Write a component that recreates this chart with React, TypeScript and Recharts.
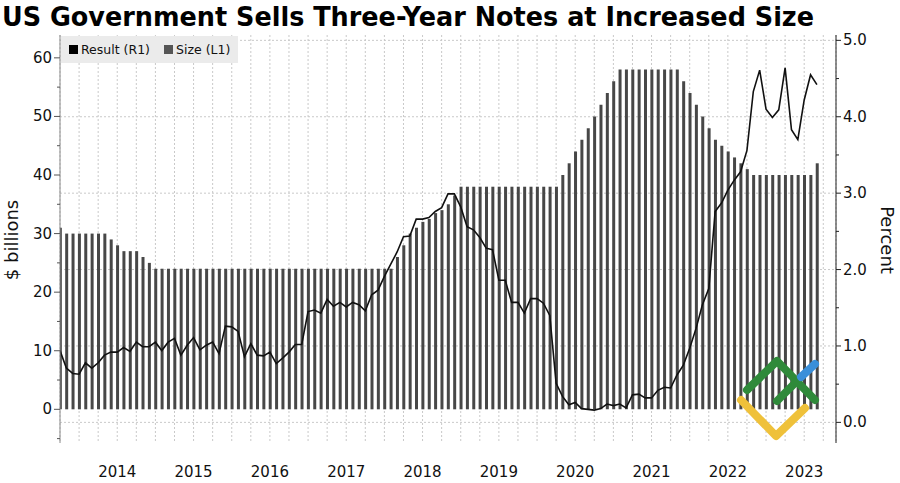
import { Bar, CartesianGrid, ComposedChart, Line, XAxis, YAxis } from 'recharts'

// one entry per monthly auction, Sep 2013 .. Aug 2023
const sizes = [
  31, 30, 30, 30, 30, 30, 30, 30, 29, 28,
  27, 27, 27, 26, 25, 24, 24, 24, 24, 24,
  24, 24, 24, 24, 24, 24, 24, 24, 24, 24,
  24, 24, 24, 24, 24, 24, 24, 24, 24, 24,
  24, 24, 24, 24, 24, 24, 24, 24, 24, 24,
  24, 24, 24, 26, 28, 30, 31, 32, 32.5, 33.5,
  34, 35, 36.5, 38, 38, 38, 38, 38, 38, 38,
  38, 38, 38, 38, 38, 38, 38, 38, 38, 40,
  42, 44, 46, 48, 50, 52, 54, 56, 58, 58,
  58, 58, 58, 58, 58, 58, 58, 58, 56, 54,
  52, 50, 48, 46, 45, 44, 43, 42, 41, 40,
  40, 40, 40, 40, 40, 40, 40, 40, 40, 42,
]

const results = [
  0.94, 0.71, 0.64, 0.63, 0.78, 0.71, 0.78, 0.88, 0.92, 0.92,
  0.98, 0.93, 1.05, 0.99, 0.99, 1.05, 0.94, 1.05, 1.1, 0.88,
  1.01, 1.11, 0.95, 1.01, 1.05, 0.9, 1.26, 1.25, 1.19, 0.86,
  1.03, 0.88, 0.87, 0.92, 0.77, 0.84, 0.92, 1.02, 1.02, 1.45,
  1.47, 1.43, 1.61, 1.52, 1.57, 1.51, 1.57, 1.54, 1.46, 1.67,
  1.73, 1.91, 2.07, 2.23, 2.43, 2.44, 2.66, 2.66, 2.68, 2.76,
  2.81, 2.99, 2.99, 2.82, 2.56, 2.52, 2.42, 2.28, 2.26, 1.86,
  1.86, 1.57, 1.57, 1.43, 1.62, 1.62, 1.56, 1.4, 0.51, 0.34,
  0.23, 0.26, 0.18, 0.17, 0.16, 0.18, 0.24, 0.22, 0.24, 0.19,
  0.36, 0.37, 0.32, 0.32, 0.42, 0.46, 0.45, 0.62, 0.75, 0.97,
  1.23, 1.54, 1.75, 2.76, 2.87, 3.04, 3.17, 3.28, 3.56, 4.33,
  4.61, 4.1, 3.99, 4.09, 4.64, 3.83, 3.7, 4.22, 4.55, 4.42,
]

const years = ['2014', '2015', '2016', '2017', '2018', '2019', '2020', '2021', '2022', '2023']
const leftTicks = [-5, 0, 5, 10, 15, 20, 25, 30, 35, 40, 45, 50, 55, 60]
const rightTicks = [0, 0.5, 1, 1.5, 2, 2.5, 3, 3.5, 4, 4.5, 5]
const gridValues = [0, 1, 2, 3, 4, 5]
// quarter marks on the month index axis; year labels sit mid-year
const quarterTicks = Array.from({ length: 41 }, (_, i) => i * 3)

const data = sizes.map((size, i) => ({ k: i, size, result: results[i] }))

const FONT = '"DejaVu Sans", Verdana, sans-serif'

function LeftTick({ x, y, payload }: any) {
  const v = payload.value
  const major = v % 10 === 0
  return (
    <g>
      <line x1={x - (major ? 6 : 3)} x2={x} y1={y} y2={y} stroke="#555" />
      {major && (
        <text x={x - 8} y={y} dy={5} textAnchor="end" fontSize={15} fill="#111" fontFamily={FONT}>
          {v}
        </text>
      )}
    </g>
  )
}

function RightTick({ x, y, payload }: any) {
  const v = payload.value
  const major = Math.abs(v - Math.round(v)) < 1e-6
  return (
    <g>
      <line x1={x} x2={x + (major ? 5 : 3)} y1={y} y2={y} stroke="#222" />
      {major && (
        <text x={x + 7} y={y} dy={5} textAnchor="start" fontSize={15} fill="#111" fontFamily={FONT}>
          {v.toFixed(1)}
        </text>
      )}
    </g>
  )
}

function YearTick({ x, y, payload }: any) {
  const v = payload.value
  if ((v - 9) % 12 !== 0) return <g />
  return (
    <text x={x} y={y + 34} textAnchor="middle" fontSize={15} fill="#111" fontFamily={FONT}>
      {years[(v - 9) / 12]}
    </text>
  )
}

export default function App() {
  return (
    <div style={{ position: 'relative', width: 900, height: 483, background: '#fff', fontFamily: FONT }}>
      <style>{'body { margin: 0; }'}</style>
      <ComposedChart width={900} height={483} data={data} margin={{ top: 35, right: 0, bottom: 0, left: 0 }}>
        <CartesianGrid
          yAxisId="right"
          horizontalValues={gridValues}
          stroke="#c9c9c9"
          strokeDasharray="2 2"
        />
        <XAxis
          type="number"
          dataKey="k"
          domain={[0, 122]}
          ticks={quarterTicks}
          interval={0}
          allowDataOverflow
          axisLine={false}
          tickLine={false}
          tickSize={0}
          tickMargin={0}
          height={40}
          tick={<YearTick />}
        />
        <YAxis
          yAxisId="left"
          orientation="left"
          domain={[-5.75, 63.9]}
          ticks={leftTicks}
          interval={0}
          allowDataOverflow
          width={60}
          axisLine={{ stroke: '#8a8a8a' }}
          tickLine={false}
          tickSize={0}
          tickMargin={0}
          tick={<LeftTick />}
        />
        <YAxis
          yAxisId="right"
          orientation="right"
          domain={[-0.27, 5.07]}
          ticks={rightTicks}
          interval={0}
          allowDataOverflow
          width={64}
          axisLine={{ stroke: '#222' }}
          tickLine={false}
          tickSize={0}
          tickMargin={0}
          tick={<RightTick />}
        />
        <Bar yAxisId="left" dataKey="size" fill="#474747" barSize={3} isAnimationActive={false} />
        <Line
          yAxisId="right"
          dataKey="result"
          type="linear"
          stroke="#111"
          strokeWidth={1.6}
          dot={false}
          isAnimationActive={false}
        />
      </ComposedChart>

      {/* legend box */}
      <div
        style={{
          position: 'absolute',
          left: 61,
          top: 36,
          height: 27,
          padding: '0 8px',
          background: '#ebebeb',
          display: 'flex',
          alignItems: 'center',
          gap: 14,
          fontSize: 12.5,
          color: '#111',
        }}
      >
        <span style={{ display: 'flex', alignItems: 'center', gap: 3 }}>
          <span style={{ width: 9, height: 9, background: '#000', display: 'inline-block' }} />
          Result (R1)
        </span>
        <span style={{ display: 'flex', alignItems: 'center', gap: 3 }}>
          <span style={{ width: 9, height: 9, background: '#555', display: 'inline-block' }} />
          Size (L1)
        </span>
      </div>

      <svg width={900} height={483} style={{ position: 'absolute', left: 0, top: 0, pointerEvents: 'none' }}>
        <text
          x={2}
          y={26}
          fontSize={26}
          fontWeight="bold"
          fontFamily={FONT}
          fill="#000"
          textLength={812}
          lengthAdjust="spacingAndGlyphs"
        >
          US Government Sells Three-Year Notes at Increased Size
        </text>
        <text transform="translate(18 240) rotate(-90)" textAnchor="middle" fontSize={18} fill="#111" fontFamily={FONT}>
          $ billions
        </text>
        <text transform="translate(881 240) rotate(90)" textAnchor="middle" fontSize={18} fill="#111" fontFamily={FONT}>
          Percent
        </text>
        {/* watermark logo */}
        <g fill="none" strokeWidth={8} strokeLinecap="round" strokeLinejoin="round">
          <polyline points="741,400 776,436 805,408" stroke="#efc13a" />
          <polyline points="747,390 777,361 815,400" stroke="#2f8a3a" />
          <polyline points="777,401 801,377" stroke="#2f8a3a" />
          <polyline points="801,377 815,364" stroke="#3a8fd9" />
        </g>
      </svg>
    </div>
  )
}
